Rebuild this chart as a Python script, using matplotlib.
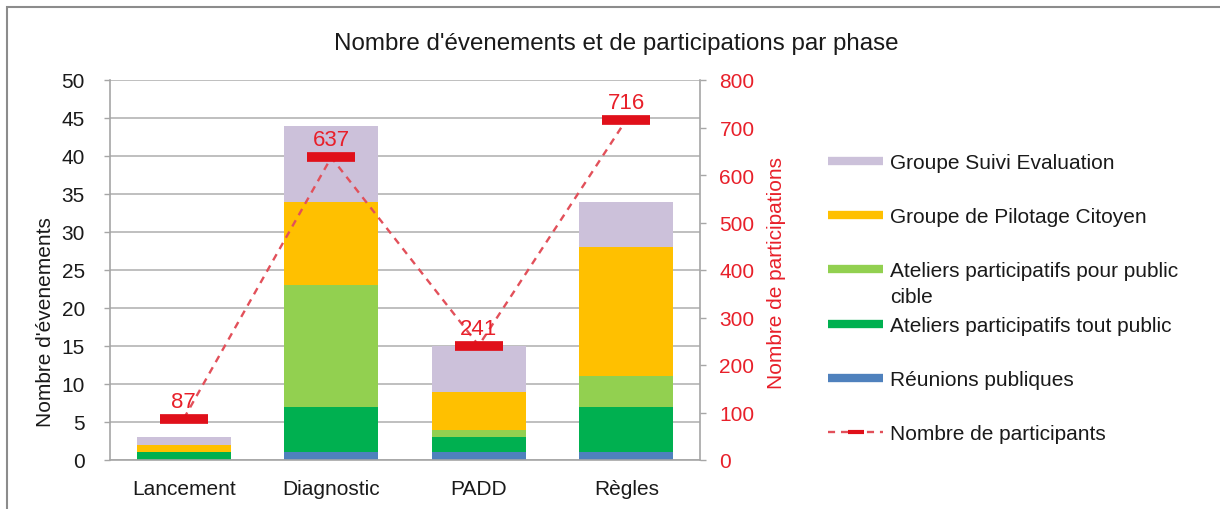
import matplotlib
matplotlib.use("Agg")
import matplotlib.pyplot as plt
from matplotlib.lines import Line2D
from matplotlib.patches import Rectangle

plt.rcParams['font.family'] = ['Liberation Sans', 'DejaVu Sans']

# Données
phases = ["Lancement", "Diagnostic", "PADD", "Règles"]
noms_series = ["Réunions publiques",
               "Ateliers participatifs tout public",
               "Ateliers participatifs pour public\ncible",
               "Groupe de Pilotage Citoyen",
               "Groupe Suivi Evaluation"]
reunions = [0, 1, 1, 1]
ateliers_tout = [1, 6, 2, 6]
ateliers_cible = [0, 16, 1, 4]
pilotage = [1, 11, 5, 17]
suivi = [1, 10, 6, 6]
participants = [87, 637, 241, 716]
nom_ligne = "Nombre de participants"

couleurs = ["#4F81BD", "#00B050", "#92D050", "#FFC000", "#CCC1DA"]
rouge = "#E0101A"
gris = "#A6A6A6"
texte = "#1A1A1A"

W, H = 1220, 510
fig = plt.figure(figsize=(W / 100, H / 100), dpi=100)
ax = fig.add_axes([110 / W, 49 / H, 590 / W, 380 / H])

x = range(len(phases))
bas = [0] * len(phases)
for valeurs, couleur in zip([reunions, ateliers_tout, ateliers_cible, pilotage, suivi], couleurs):
    ax.bar(x, valeurs, width=0.64, bottom=bas, color=couleur, edgecolor="none", zorder=2)
    bas = [b + v for b, v in zip(bas, valeurs)]

ax.set_xlim(-0.5, 3.5)
ax.set_ylim(0, 50)
ax.set_yticks(range(0, 51, 5))
ax.set_xticks(list(x))
ax.set_xticklabels(phases)
ax.grid(axis="y", color="#B4B4B4", lw=1.2, zorder=0)
ax.set_axisbelow(True)
ax.tick_params(axis="x", length=0, pad=14, labelsize=15, labelcolor=texte)
ax.tick_params(axis="y", length=4, width=1, color=gris, pad=14, labelsize=15, labelcolor=texte)
for s in ["top", "right"]:
    ax.spines[s].set_visible(False)
for s in ["left", "bottom"]:
    ax.spines[s].set_color(gris)
    ax.spines[s].set_linewidth(1.2)
ax.set_ylabel("Nombre d'évenements", fontsize=15, color=texte)
ax.yaxis.set_label_coords(-0.093, 0.366)

# Axe secondaire : participants
ax2 = ax.twinx()
ax2.plot(list(x), participants, linestyle=(0, (3, 2.5)), color="#E2505A", lw=1.7,
         marker="_", ms=34, mew=7, mec=rouge, zorder=3)
for i, v in enumerate(participants):
    ax2.annotate(str(v), (i, v), xytext=(0, 5), textcoords="offset points",
                 ha="center", va="bottom", color="#E8202A", fontsize=16)
ax2.set_ylim(0, 800)
ax2.set_yticks(range(0, 801, 100))
ax2.tick_params(axis="y", length=4, width=1, color=gris, pad=10, labelsize=15, labelcolor="#E8202A")
for s in ["top", "left", "bottom"]:
    ax2.spines[s].set_visible(False)
ax2.spines["right"].set_color(gris)
ax2.spines["right"].set_linewidth(1.2)
ax2.set_ylabel("Nombre de participations", fontsize=15, color="#E8202A")
ax2.yaxis.set_label_coords(1.113, 0.495)

# Titre
fig.text(0.505, 1 - 44 / H, "Nombre d'évenements et de participations par phase",
         ha="center", va="center", fontsize=17.4, color=texte)

# Légende (ordre inversé comme dans Excel)
y0, pas = 162, 54.2
entrees = list(zip(noms_series, couleurs))[::-1]
for k, (nom, couleur) in enumerate(entrees):
    y = 1 - (y0 + k * pas) / H
    fig.add_artist(Line2D([828 / W, 883 / W], [y, y], color=couleur, lw=6,
                          solid_capstyle="butt"))
    fig.text(890 / W, y + 8 / H, nom, ha="left", va="top", fontsize=15, color=texte,
             linespacing=1.45)
y = 1 - (y0 + len(entrees) * pas) / H
fig.add_artist(Line2D([828 / W, 855.5 / W, 883 / W], [y, y, y], color="#E2505A", lw=1.7,
                      linestyle=(0, (3, 2.5)), marker="_", ms=12, mew=3, mec=rouge,
                      markevery=[1]))
fig.text(890 / W, y + 8 / H, nom_ligne, ha="left", va="top", fontsize=15, color=texte)

# Cadre
fig.add_artist(Rectangle((7 / W, -0.05), 1.1, 1 - 8 / H + 0.05, fill=False,
                         edgecolor="#8C8C8C", lw=1.5, transform=fig.transFigure))

fig.savefig("out.png", dpi=100)
